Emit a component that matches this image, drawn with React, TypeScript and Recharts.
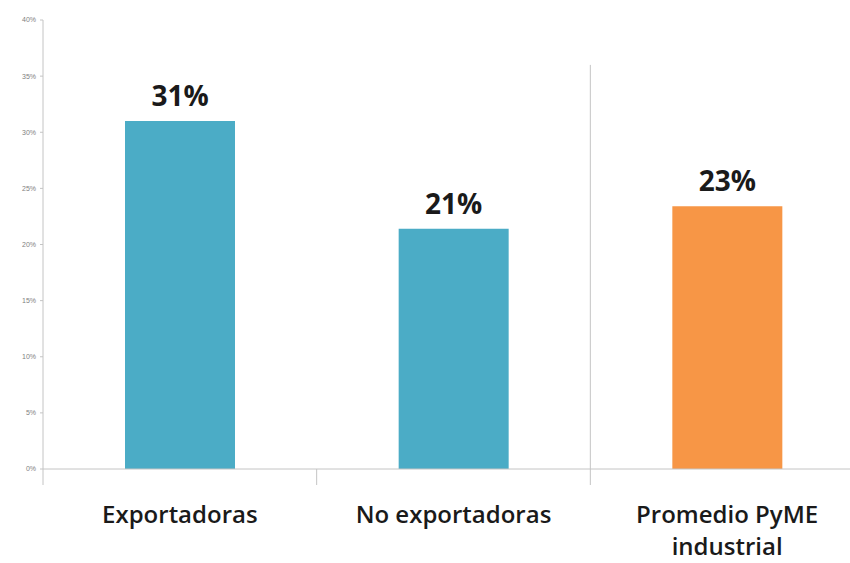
import React from "react";
import { BarChart, Bar, XAxis, YAxis, Cell, LabelList, ReferenceLine } from "recharts";

const categories = ["Exportadoras", "No exportadoras", "Promedio PyME industrial"];
const values = [31, 21.4, 23.4];
const barColors = ["#4BACC6", "#4BACC6", "#F79646"];
const yTicks = [0, 5, 10, 15, 20, 25, 30, 35, 40];
const categoryLines = [["Exportadoras"], ["No exportadoras"], ["Promedio PyME", "industrial"]];
const separatorTop = 36;

const data = categories.map((c, i) => ({ name: c, value: values[i] }));

const AXIS = "#c4c4c4";

const CatTick = (props: any) => {
  const { x, y, payload, index } = props;
  const off = payload && payload.offset != null ? payload.offset : 0;
  const lines = categoryLines[index] || [payload.value];
  return (
    <g>
      <line x1={x - off} x2={x - off} y1={y} y2={y + 16} stroke={AXIS} strokeWidth={1} />
      {index === categories.length - 1 && (
        <line x1={x + off} x2={x + off} y1={y} y2={y + 16} stroke={AXIS} strokeWidth={1} />
      )}
      {lines.map((l: string, i: number) => (
        <text
          key={i}
          x={x}
          y={y + 54 + i * 32}
          textAnchor="middle"
          fontFamily="'Open Sans', sans-serif"
          fontWeight={600}
          fontSize={24}
          fill="#1a1a1a"
        >
          {l}
        </text>
      ))}
    </g>
  );
};

export default function App() {
  return (
    <div style={{ position: "absolute", left: 0, top: 0, width: 850, height: 563, overflow: "hidden", background: "#fff" }}>
      <BarChart width={864} height={563} data={data} margin={{ top: 20, right: 0, left: 0, bottom: 0 }}>
        <YAxis
          width={43}
          domain={[0, 40]}
          ticks={yTicks}
          interval={0}
          tickFormatter={(v: number) => `${v}%`}
          tick={{ fontSize: 7, fill: "#808080", fontFamily: "'Liberation Sans', sans-serif" }}
          tickSize={3}
          tickMargin={4}
          axisLine={{ stroke: AXIS }}
          tickLine={{ stroke: AXIS }}
        />
        <XAxis
          dataKey="name"
          height={94}
          interval={0}
          axisLine={{ stroke: AXIS }}
          tickLine={false}
          tickSize={0}
          tickMargin={0}
          tick={<CatTick />}
        />
        <ReferenceLine
          position="start"
          segment={[
            { x: categories[2], y: 0 },
            { x: categories[2], y: separatorTop },
          ]}
          stroke={AXIS}
          strokeWidth={1}
          ifOverflow="visible"
        />
        <Bar dataKey="value" barSize={110} isAnimationActive={false}>
          {data.map((d, i) => (
            <Cell key={i} fill={barColors[i]} />
          ))}
          <LabelList
            dataKey="value"
            position="top"
            offset={15}
            formatter={(v: number) => `${Math.round(v)}%`}
            style={{ fontSize: 28, fontWeight: 700, fill: "#1a1a1a", fontFamily: "'Open Sans', sans-serif" }}
          />
        </Bar>
      </BarChart>
    </div>
  );
}
